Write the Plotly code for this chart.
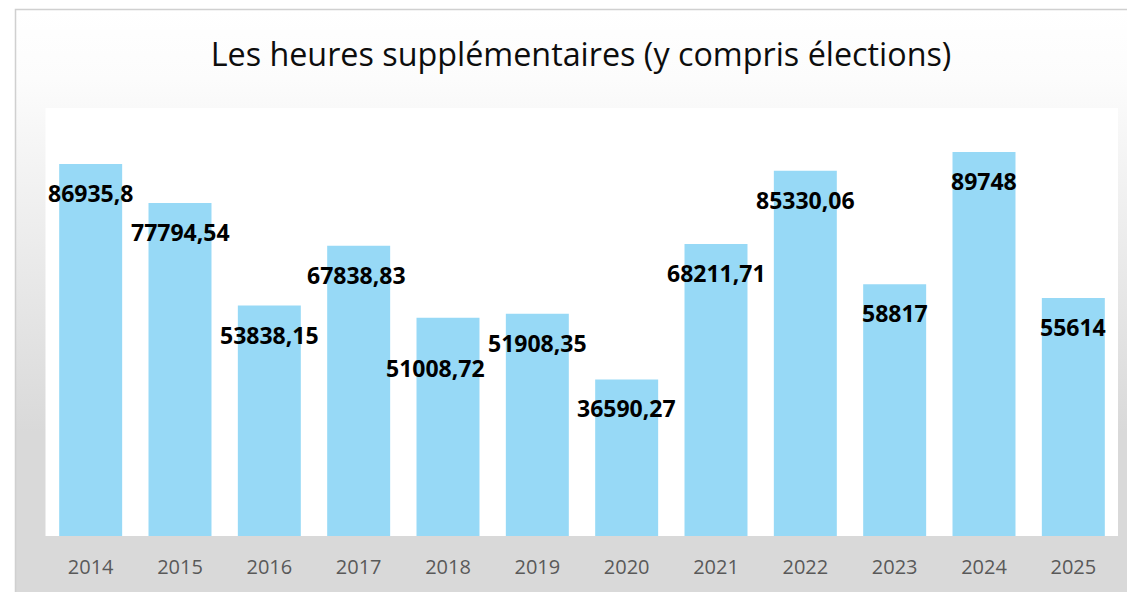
import base64
import plotly.graph_objects as go

years = ["2014", "2015", "2016", "2017", "2018", "2019", "2020", "2021", "2022", "2023", "2024", "2025"]
values = [86935.8, 77794.54, 53838.15, 67838.83, 51008.72, 51908.35, 36590.27, 68211.71, 85330.06, 58817, 89748, 55614]
labels = ["86935,8", "77794,54", "53838,15", "67838,83", "51008,72", "51908,35", "36590,27", "68211,71", "85330,06", "58817", "89748", "55614"]
title_text = "Les heures supplémentaires (y compris élections)"

# manual label nudges (style only)
label_xshift = {"2017": -2, "2018": -13}
label_yshift = {"2018": -21}

W, H = 1127, 592
ml, mr, mt, mb = 46, 9, 108, 56
pw, ph = W - ml - mr, H - mt - mb


def px2x(px):
    return (px - ml) / pw


def py2y(py):
    return (H - mb - py) / ph


svg = (
    '<svg xmlns="http://www.w3.org/2000/svg" width="100" height="100" preserveAspectRatio="none" viewBox="0 0 100 100">'
    '<defs><linearGradient id="g" x1="0" y1="0" x2="0" y2="1">'
    '<stop offset="0" stop-color="#ffffff"/>'
    '<stop offset="0.12" stop-color="#fcfcfc"/>'
    '<stop offset="0.72" stop-color="#d9d9d9"/>'
    '<stop offset="1" stop-color="#d9d9d9"/>'
    '</linearGradient></defs>'
    '<rect x="0" y="0" width="100" height="100" fill="url(#g)"/></svg>'
)
svg_uri = "data:image/svg+xml;base64," + base64.b64encode(svg.encode()).decode()

fig = go.Figure()
fig.add_trace(go.Bar(
    x=years, y=values,
    marker=dict(color="#97D9F6", line=dict(width=0)),
    hoverinfo="skip",
))

# category index positions (numeric-looking strings would be read as indices)
for i, (yr, v, lab) in enumerate(zip(years, values, labels)):
    fig.add_annotation(
        x=i, y=v, text="<b>" + lab + "</b>", showarrow=False,
        yshift=-29 + label_yshift.get(yr, 0),
        xshift=label_xshift.get(yr, 0),
        xanchor="center", yanchor="middle",
        font=dict(family="Open Sans", size=23, color="#000000"),
    )

fig.add_layout_image(dict(
    source=svg_uri, xref="paper", yref="paper",
    x=px2x(15), y=py2y(9), sizex=(W + 5 - 15) / pw, sizey=(H + 5 - 9) / ph,
    xanchor="left", yanchor="top", sizing="stretch", layer="below",
))

fig.add_shape(type="rect", xref="paper", yref="paper",
              x0=px2x(45.5), x1=px2x(1118), y0=py2y(536), y1=py2y(108),
              fillcolor="#ffffff", line=dict(width=0), layer="below")
fig.add_shape(type="rect", xref="paper", yref="paper",
              x0=px2x(15.5), x1=px2x(W + 5), y0=py2y(H + 5), y1=py2y(9.5),
              fillcolor="rgba(0,0,0,0)", line=dict(color="#d0d0d0", width=1.5), layer="above")

fig.update_layout(
    width=W, height=H,
    margin=dict(l=ml, r=mr, t=mt, b=mb, pad=0),
    paper_bgcolor="#ffffff",
    plot_bgcolor="rgba(0,0,0,0)",
    showlegend=False,
    bargap=0.295,
    title=dict(text=title_text, x=581 / W, xanchor="center", y=1 - 55 / H, yanchor="middle",
               font=dict(family="Open Sans", size=32.3, color="#0d0d0d")),
    xaxis=dict(type="category", range=[-0.5, 11.5], showgrid=False, showline=False, zeroline=False,
               ticks="", ticklabelstandoff=17,
               tickfont=dict(family="Open Sans", size=20, color="#595959")),
    yaxis=dict(range=[0, 100000], visible=False, showgrid=False, zeroline=False),
)

fig.write_html("out.html", config={"displayModeBar": False},
               post_script="document.body.style.margin='0';document.body.style.overflow='hidden';")
